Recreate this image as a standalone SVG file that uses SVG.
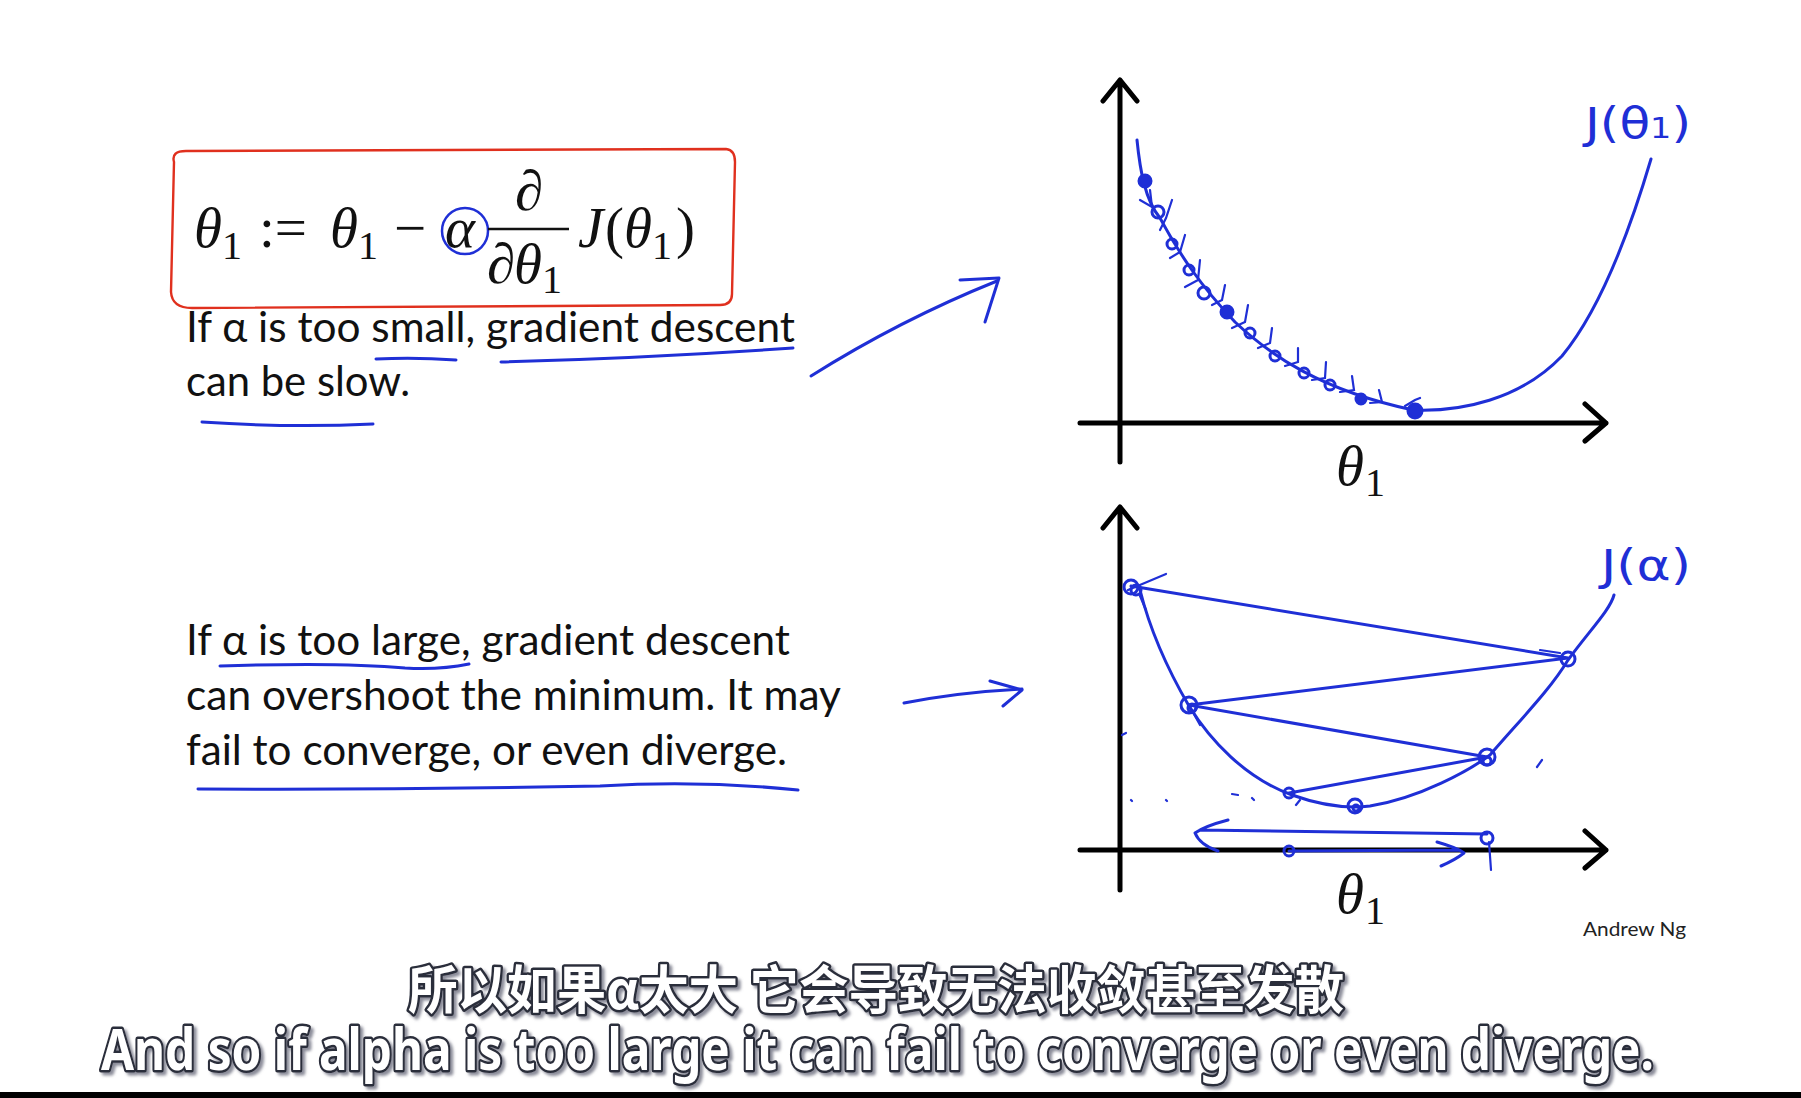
<svg xmlns="http://www.w3.org/2000/svg" width="1801" height="1098" viewBox="0 0 1801 1098">
<defs>
  <filter id="sh" x="-5%" y="-30%" width="110%" height="160%">
    <feDropShadow dx="3" dy="3" stdDeviation="1.5" flood-color="#6e7080" flood-opacity="0.8"/>
  </filter>
</defs>
<style>
.slide{font-family:Lato,"Open Sans","Liberation Sans",sans-serif;font-size:42px;fill:#111}
.m{font-family:"Liberation Serif","DejaVu Serif",serif;font-size:57px;fill:#111}
.mi{font-style:italic}
.sub{font-size:40px}
.ink{fill:none;stroke:#1f2fd6;stroke-width:3;stroke-linecap:round;stroke-linejoin:round}
.inkt{fill:none;stroke:#1f2fd6;stroke-width:2.2;stroke-linecap:round}
.axis{fill:none;stroke:#000;stroke-width:5;stroke-linecap:round;stroke-linejoin:round}
.hand{font-family:"DejaVu Sans","Liberation Sans",sans-serif;font-size:42px;fill:#1f2fd6}
.subt{font-weight:bold;fill:#fff;stroke:#2b2d3a;stroke-width:5;paint-order:stroke;stroke-linejoin:round;filter:url(#sh)}
.cjk{font-family:"Noto Sans CJK SC",sans-serif}
.en{font-family:"Noto Sans","Liberation Sans",sans-serif}
</style>
<rect width="1801" height="1098" fill="#fff"/>

<g id="formula">
  <path d="M174,162 Q171,151 186,151 L726,149 Q735,150 735,162 L732,294 Q732,305 720,305 L192,308 Q172,308 171,292 Z" fill="none" stroke="#e0301e" stroke-width="2.4"/>
  <text class="m"><tspan class="mi" x="194" y="247">θ</tspan><tspan class="sub" x="222" y="259">1</tspan><tspan x="259" y="247">:=</tspan><tspan class="mi" x="330" y="247">θ</tspan><tspan class="sub" x="358" y="259">1</tspan><tspan x="394" y="247">−</tspan><tspan class="mi" x="445" y="247">α</tspan></text>
  <circle cx="465" cy="231" r="23" fill="none" stroke="#1f2fd6" stroke-width="2.5"/>
  <text class="m" x="529" y="210" text-anchor="middle">∂</text>
  <line x1="488" y1="229" x2="569" y2="229" stroke="#111" stroke-width="2.5"/>
  <text class="m"><tspan x="487" y="283">∂</tspan><tspan class="mi" x="514" y="283">θ</tspan><tspan class="sub" x="542" y="293">1</tspan></text>
  <text class="m"><tspan class="mi" x="578" y="247">J</tspan><tspan x="605" y="247">(</tspan><tspan class="mi" x="624" y="247">θ</tspan><tspan class="sub" x="652" y="259">1</tspan><tspan x="676" y="247">)</tspan></text>
</g>

<g id="text-small">
  <text class="slide" x="186" y="342" textLength="609" lengthAdjust="spacingAndGlyphs">If α is too small, gradient descent</text>
  <text class="slide" x="186" y="396" textLength="224" lengthAdjust="spacingAndGlyphs">can be slow.</text>
  <path class="ink" d="M376,359 Q415,357 456,360"/>
  <path class="ink" d="M501,362 Q650,358 793,348"/>
  <path class="ink" d="M202,422 Q290,428 373,424"/>
</g>

<g id="text-large">
  <text class="slide" x="186" y="655" textLength="604" lengthAdjust="spacingAndGlyphs">If α is too large, gradient descent</text>
  <text class="slide" x="186" y="710" textLength="655" lengthAdjust="spacingAndGlyphs">can overshoot the minimum. It may</text>
  <text class="slide" x="186" y="765" textLength="601" lengthAdjust="spacingAndGlyphs">fail to converge, or even diverge.</text>
  <path class="ink" d="M220,666 Q340,662 405,668 Q440,670 469,664"/>
  <path class="ink" d="M198,789 Q400,790 600,786 Q700,780 798,790"/>
</g>

<g id="connectors">
  <path class="ink" d="M811,376 Q900,320 997,281"/>
  <path class="ink" d="M960,280 L999,278 L985,322"/>
  <path class="ink" d="M904,703 Q960,692 1022,689"/>
  <path class="ink" d="M990,681 L1022,690 L1003,706"/>
</g>

<g id="plot-small">
  <path class="axis" d="M1120,462 L1120,80 M1103,101 L1120,80 L1137,101"/>
  <path class="axis" d="M1080,423 L1606,423 M1585,404 L1606,423 L1585,441"/>
  <path class="ink" d="M1137,140 C1140,170 1145,200 1160,218 C1180,255 1200,285 1235,322 C1270,355 1320,390 1413,410 C1460,412 1520,400 1562,356 C1600,310 1630,230 1651,159"/>
  <g class="ink">
    <circle cx="1145" cy="181" r="6" fill="#1f2fd6"/>
    <circle cx="1158" cy="212" r="6"/>
    <circle cx="1172" cy="244" r="5"/>
    <circle cx="1189" cy="270" r="5"/>
    <circle cx="1204" cy="293" r="6"/>
    <circle cx="1227" cy="312" r="6" fill="#1f2fd6"/>
    <circle cx="1250" cy="333" r="5"/>
    <circle cx="1275" cy="356" r="5"/>
    <circle cx="1304" cy="373" r="5"/>
    <circle cx="1330" cy="385" r="5"/>
    <circle cx="1361" cy="399" r="5" fill="#1f2fd6"/>
    <circle cx="1415" cy="411" r="7" fill="#1f2fd6"/>
  </g>
  <path class="inkt" d="M1140,200 L1152,207 L1150,190 M1160,230 L1166,218 L1172,200 M1170,258 L1180,252 L1185,235 M1185,287 L1198,280 L1200,260 M1212,305 L1222,300 L1225,285 M1232,328 L1245,322 L1248,305 M1258,348 L1270,343 L1272,328 M1285,366 L1298,362 L1298,348 M1312,380 L1325,378 L1326,362 M1340,392 L1354,390 L1352,376 M1370,403 L1382,402 L1379,390 M1405,406 L1415,400 L1420,398"/>
  <text class="hand" x="1585" y="138" textLength="106" lengthAdjust="spacingAndGlyphs">J(θ<tspan font-size="28">1</tspan>)</text>
  <text class="m"><tspan class="mi" x="1336" y="485">θ</tspan><tspan class="sub" x="1365" y="496">1</tspan></text>
</g>

<g id="plot-large">
  <path class="axis" d="M1120,890 L1120,507 M1103,528 L1120,507 L1137,528"/>
  <path class="axis" d="M1080,850 L1606,850 M1585,831 L1606,850 L1585,868"/>
  <path class="ink" d="M1140,590 C1150,630 1165,665 1189,706 C1210,740 1245,778 1292,795 C1320,805 1345,809 1370,806 C1420,798 1470,770 1490,755 C1520,720 1550,690 1568,660 C1590,630 1610,610 1614,595"/>
  <path class="ink" d="M1131,586 L1568,658 L1189,705 L1487,757 L1289,793"/>
  <path class="inkt" d="M1128,590 L1166,574 M1140,596 L1146,610 M1189,705 L1200,725 M1560,653 L1540,650 M1296,805 L1300,800"/>
  <g class="ink">
    <circle cx="1131" cy="587" r="7"/>
    <circle cx="1136" cy="590" r="5"/>
    <circle cx="1568" cy="659" r="7"/>
    <circle cx="1189" cy="705" r="8"/>
    <circle cx="1192" cy="708" r="4"/>
    <circle cx="1487" cy="757" r="8"/>
    <circle cx="1487" cy="761" r="4"/>
    <circle cx="1289" cy="793" r="5"/>
    <circle cx="1355" cy="806" r="7"/>
    <circle cx="1356" cy="808" r="3"/>
    <circle cx="1289" cy="851" r="5"/>
    <circle cx="1487" cy="838" r="6"/>
  </g>
  <path class="ink" d="M1487,834 L1200,830 M1228,820 Q1205,826 1195,833 Q1200,845 1218,851"/>
  <path class="ink" d="M1289,851 L1459,850 M1437,842 Q1458,848 1464,853 Q1455,860 1441,866"/>
  <path class="inkt" d="M1489,842 L1491,870"/>
  <path class="inkt" d="M1122,735 L1126,733 M1131,800 L1132,801 M1166,800 L1167,801 M1232,794 L1238,795 M1252,798 L1254,800 M1542,760 L1537,767"/>
  <text class="hand" x="1601" y="580" textLength="90" lengthAdjust="spacingAndGlyphs">J(α)</text>
  <text class="m"><tspan class="mi" x="1336" y="913">θ</tspan><tspan class="sub" x="1365" y="924">1</tspan></text>
  <text x="1583" y="936" font-family="Lato,'Open Sans',sans-serif" font-size="19" fill="#222" textLength="103" lengthAdjust="spacingAndGlyphs">Andrew Ng</text>
</g>

<g id="subtitles">
  <text class="subt cjk" x="408" y="1009" font-size="52" textLength="936" lengthAdjust="spacingAndGlyphs">所以如果α太大 它会导致无法收敛甚至发散</text>
  <text class="subt en" x="101" y="1070" font-size="58" textLength="1553" lengthAdjust="spacingAndGlyphs">And so if alpha is too large it can fail to converge or even diverge.</text>
  <rect x="0" y="1092" width="1801" height="6" fill="#000"/>
</g>
</svg>
